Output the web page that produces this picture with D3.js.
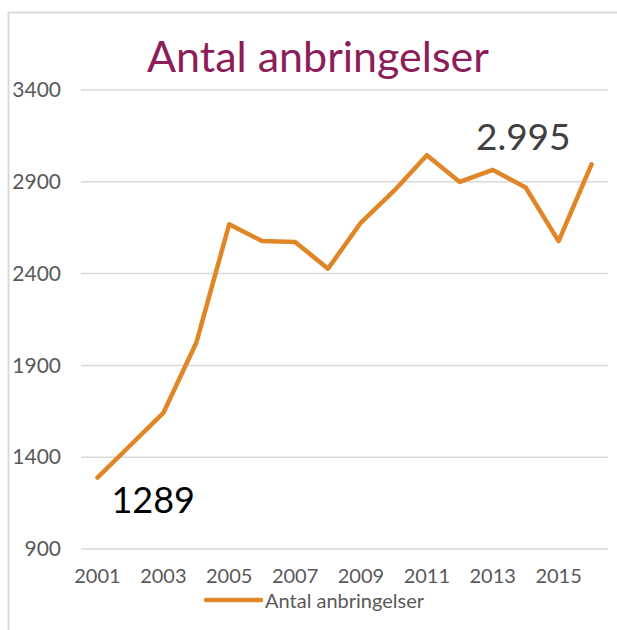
<!DOCTYPE html>
<html>
<head>
<meta charset="utf-8">
<script src="https://cdn.jsdelivr.net/npm/d3@7"></script>
<style>
  body { margin: 0; background: #fff; }
  svg { display: block; font-family: Lato, "Open Sans", sans-serif; }
</style>
</head>
<body>
<div id="chart"></div>
<script>
const years = [2001, 2002, 2003, 2004, 2005, 2006, 2007, 2008, 2009, 2010, 2011, 2012, 2013, 2014, 2015, 2016]
const anbringelser = [1289, 1465, 1641, 2023, 2669, 2577, 2572, 2427, 2678, 2850, 3045, 2899, 2965, 2869, 2577, 2995]
const yTicks = [900, 1400, 1900, 2400, 2900, 3400]
const xTickYears = [2001, 2003, 2005, 2007, 2009, 2011, 2013, 2015]
const seriesName = 'Antal anbringelser'

const width = 617
const height = 630
const margin = { top: 90, right: 9, bottom: 81, left: 81 }

const svg = d3.select('#chart').append('svg')
              .attr('width', width)
              .attr('height', height)

// outer frame
svg.append('path')
   .attr('d', `M8.5,${height} V12.5 H${width}`)
   .attr('fill', 'none')
   .attr('stroke', '#d9d9d9')
   .attr('stroke-width', 2)

const x = d3.scaleBand()
            .domain(years)
            .range([margin.left, width - margin.right])

const y = d3.scaleLinear()
            .domain([900, 3400])
            .range([height - margin.bottom, margin.top])

const cx = d => x(d) + x.bandwidth() / 2

// gridlines
svg.append('g')
   .selectAll('line')
   .data(yTicks)
   .join('line')
   .attr('x1', margin.left)
   .attr('x2', width - margin.right)
   .attr('y1', d => y(d))
   .attr('y2', d => y(d))
   .attr('stroke', '#d9d9d9')
   .attr('stroke-width', 1.5)

// y axis labels
const yAxis = svg.append('g')
   .attr('transform', `translate(${margin.left - 20},0)`)
   .call(d3.axisLeft(y).tickValues(yTicks).tickSize(0).tickPadding(0).tickFormat(d3.format('d')))
yAxis.select('.domain').remove()
yAxis.selectAll('text')
     .attr('font-size', 21)
     .attr('font-family', 'Lato, sans-serif')
     .attr('fill', '#595959')

// x axis labels
const xAxis = svg.append('g')
   .attr('transform', `translate(0,${height - margin.bottom + 20})`)
   .call(d3.axisBottom(x).tickValues(xTickYears).tickSize(0).tickPadding(0))
xAxis.select('.domain').remove()
xAxis.selectAll('text')
     .attr('font-size', 20)
     .attr('font-family', 'Lato, sans-serif')
     .attr('fill', '#595959')

// line
const line = d3.line()
               .x((d, i) => cx(years[i]))
               .y(d => y(d))

svg.append('path')
   .datum(anbringelser)
   .attr('d', line)
   .attr('fill', 'none')
   .attr('stroke', '#e08626')
   .attr('stroke-width', 4.5)
   .attr('stroke-linejoin', 'round')
   .attr('stroke-linecap', 'round')

// title
svg.append('text')
   .attr('x', 318)
   .attr('y', 72)
   .attr('text-anchor', 'middle')
   .attr('font-size', 43)
   .attr('fill', '#8c1d58')
   .text(seriesName)

// annotations
const first = anbringelser[0]
const last = anbringelser[anbringelser.length - 1]
svg.append('text')
   .attr('x', cx(years[0]) + 14)
   .attr('y', y(first) + 35)
   .attr('font-size', 36)
   .attr('fill', '#000')
   .text(d3.format('d')(first))

svg.append('text')
   .attr('x', cx(years[years.length - 1]) - 21)
   .attr('y', y(last) - 14)
   .attr('text-anchor', 'end')
   .attr('font-size', 37)
   .attr('fill', '#404040')
   .text(d3.format(',')(last).replace(',', '.'))

// legend
const legend = svg.append('g').attr('transform', 'translate(206,600)')
legend.append('line')
      .attr('x1', 0)
      .attr('x2', 55)
      .attr('stroke', '#e08626')
      .attr('stroke-width', 4.5)
      .attr('stroke-linecap', 'round')
legend.append('text')
      .attr('x', 59)
      .attr('y', 8)
      .attr('font-size', 20)
      .attr('fill', '#595959')
      .text(seriesName)
</script>
</body>
</html>
